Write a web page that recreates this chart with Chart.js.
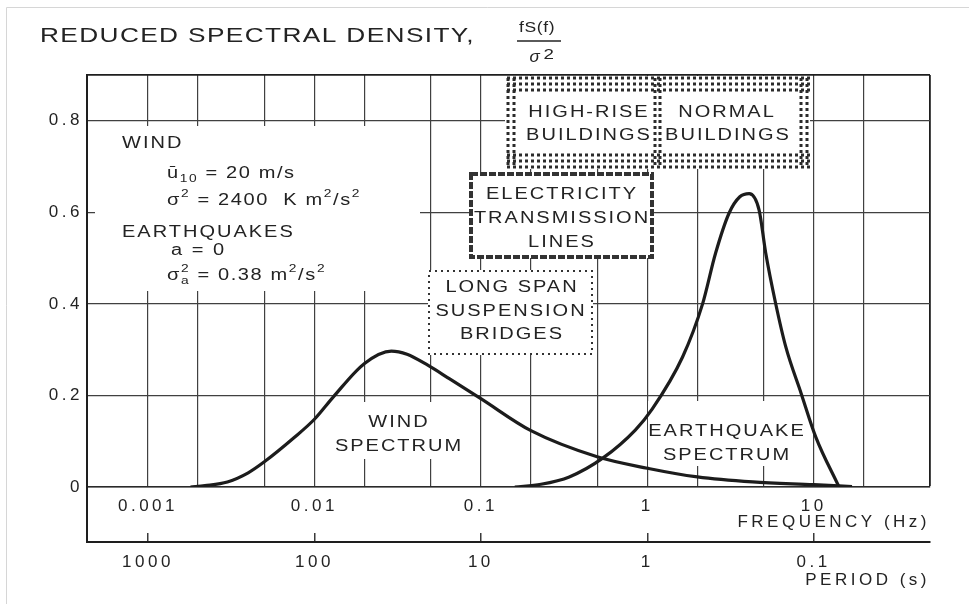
<!DOCTYPE html>
<html>
<head>
<meta charset="utf-8">
<script src="https://cdn.jsdelivr.net/npm/chart.js@4.4.1/dist/chart.umd.min.js"></script>
<style>
  html, body { margin: 0; padding: 0; background: #fff; }
  canvas { display: block; }
</style>
</head>
<body>
<canvas id="spectra" width="969" height="604" style="width:969px;height:604px"></canvas>
<script>
// values (frequency in Hz, reduced spectral density)
const windFreq   = [0.0018, 0.0022, 0.003, 0.004, 0.005, 0.0075, 0.01, 0.013, 0.02, 0.029, 0.036, 0.048, 0.065, 0.1, 0.2, 0.5, 1, 2, 4.3, 10, 17];
const windValue  = [0, 0.003, 0.011, 0.031, 0.055, 0.107, 0.148, 0.197, 0.27, 0.297, 0.29, 0.266, 0.236, 0.193, 0.123, 0.066, 0.041, 0.022, 0.011, 0.005, 0.001];
const quakeFreq  = [0.16, 0.23, 0.34, 0.54, 0.85, 1.07, 1.63, 2.15, 2.57, 3.1, 3.6, 4.1, 4.7, 5.15, 5.9, 6.8, 8.4, 10.3, 14.2];
const quakeValue = [0, 0.006, 0.022, 0.063, 0.125, 0.17, 0.284, 0.40, 0.51, 0.598, 0.634, 0.641, 0.605, 0.511, 0.402, 0.306, 0.205, 0.109, 0];

const freqGrid     = [0.001, 0.002, 0.005, 0.01, 0.02, 0.05, 0.1, 0.2, 0.5, 1, 2, 5, 10, 20, 50];
const decadeTicks  = [0.001, 0.01, 0.1, 1, 10];
const freqLabels   = ['0.001', '0.01', '0.1', '1', '10'];
const periodLabels = ['1000', '100', '10', '1', '0.1'];
const yTicks  = [0, 0.2, 0.4, 0.6, 0.8];
const yLabels = ['0', '0.2', '0.4', '0.6', '0.8'];

const freqMin = 0.00043, freqMax = 50, yTop = 0.9;

const FONT = '"Liberation Sans", Arial, sans-serif';
const INK = '#232323';
const GRID = '#404040';
const STRETCH = 1.25;   // the original lettering is a wide grotesque

// text and boxes drawn on the plot (pixel layout)
const plainNotes = [
  { t: 'WIND', x: 122, y: 144, align: 'left' },
  { t: 'EARTHQUAKES', x: 122, y: 233, align: 'left' },
  { t: 'a = 0', x: 171, y: 251, align: 'left' },
  { t: 'WIND', x: 399, y: 423 },
  { t: 'SPECTRUM', x: 399, y: 447 },
  { t: 'EARTHQUAKE', x: 727, y: 432 },
  { t: 'SPECTRUM', x: 727, y: 456 },
  { t: 'HIGH-RISE', x: 589, y: 113 },
  { t: 'BUILDINGS', x: 589, y: 136 },
  { t: 'NORMAL', x: 727, y: 113 },
  { t: 'BUILDINGS', x: 728, y: 136 },
  { t: 'ELECTRICITY', x: 562, y: 195 },
  { t: 'TRANSMISSION', x: 562, y: 219 },
  { t: 'LINES', x: 562, y: 243 },
  { t: 'LONG SPAN', x: 512, y: 288 },
  { t: 'SUSPENSION', x: 511, y: 312 },
  { t: 'BRIDGES', x: 512, y: 335 }
];
const richNotes = [
  { x: 167, y: 174, parts: [['ū', 'n'], ['10', 'sub'], [' = 20 m/s', 'n']] },
  { x: 167, y: 201, parts: [['σ', 'n'], ['2', 'sup'], [' = 2400  K m', 'n'], ['2', 'sup'], ['/s', 'n'], ['2', 'sup']] },
  { x: 167, y: 276, parts: [['σ', 'n'], [['2', 'a'], 'both'], [' = 0.38 m', 'n'], ['2', 'sup'], ['/s', 'n'], ['2', 'sup']] }
];
const masks = [[95, 126, 325, 165], [335, 402, 127, 57], [648, 401, 160, 65]];

function font(size) { return size + 'px ' + FONT; }

// draw text widened horizontally, returns the advance in pixels
function wideText(ctx, txt, x, y, size, align) {
  ctx.save();
  ctx.font = font(size);
  ctx.textAlign = align || 'left';
  ctx.translate(x, y);
  ctx.scale(STRETCH, 1);
  ctx.fillText(txt, 0, 0);
  const w = ctx.measureText(txt).width * STRETCH;
  ctx.restore();
  return w;
}

function drawRich(ctx, x, y, parts) {
  let cx = x;
  parts.forEach(([txt, kind]) => {
    if (kind === 'sup' || kind === 'sub') {
      cx += wideText(ctx, txt, cx, y + (kind === 'sup' ? -7 : 5), 11);
    } else if (kind === 'both') {
      const a = wideText(ctx, txt[0], cx, y - 7, 11);
      const b = wideText(ctx, txt[1], cx, y + 5, 11);
      cx += Math.max(a, b);
    } else {
      cx += wideText(ctx, txt, cx, y, 16);
    }
  });
}

function line(ctx, x1, y1, x2, y2) {
  ctx.beginPath();
  ctx.moveTo(x1, y1);
  ctx.lineTo(x2, y2);
  ctx.stroke();
}

function drawBoxes(ctx) {
  // high-rise / normal buildings: heavy dotted frame
  ctx.fillStyle = '#fff';
  ctx.fillRect(505, 76, 305, 93);
  ctx.strokeStyle = '#2b2b2b';
  ctx.lineWidth = 3;
  ctx.setLineDash([3, 3]);
  [78, 84, 90, 155, 161, 167].forEach(y => line(ctx, 507, y, 810, y));
  [508, 514, 801, 807, 655, 660].forEach(x => line(ctx, x, 78, x, 167));

  // electricity transmission lines: thick rough frame
  ctx.fillStyle = '#fff';
  ctx.fillRect(470, 173, 183, 85);
  ctx.strokeStyle = '#333';
  ctx.lineWidth = 4;
  ctx.setLineDash([7, 2]);
  ctx.strokeRect(471, 174, 181, 83);

  // long span suspension bridges: thin dotted frame
  ctx.fillStyle = '#fff';
  ctx.fillRect(428, 270, 165, 85);
  ctx.lineWidth = 2;
  ctx.setLineDash([2, 4]);
  ctx.strokeRect(429, 271, 163, 83);
  ctx.setLineDash([]);
}

const paperPlugin = {
  id: 'paper',
  beforeUpdate(chart) { chart.ctx.letterSpacing = '3.5px'; },
  beforeLayout(chart) { chart.ctx.letterSpacing = '3.5px'; },
  beforeDraw(chart) {
    const ctx = chart.ctx;
    ctx.letterSpacing = '3.5px';
    ctx.save();
    ctx.fillStyle = '#fff';
    ctx.fillRect(0, 0, chart.width, chart.height);
    ctx.strokeStyle = '#d6d6d6';
    ctx.lineWidth = 1;
    ctx.beginPath();
    ctx.moveTo(6.5, 604); ctx.lineTo(6.5, 7.5); ctx.lineTo(969, 7.5);
    ctx.stroke();

    // title with the fraction fS(f) / sigma^2
    ctx.fillStyle = INK;
    ctx.textBaseline = 'middle';
    ctx.letterSpacing = '1.1px';
    wideText(ctx, 'REDUCED SPECTRAL DENSITY,', 40, 36, 21);
    ctx.letterSpacing = '0.5px';
    wideText(ctx, 'fS(f)', 537, 28, 14, 'center');
    ctx.strokeStyle = INK;
    ctx.lineWidth = 1.5;
    line(ctx, 517, 41, 561, 41);
    ctx.font = 'italic ' + font(17);
    ctx.textAlign = 'center';
    ctx.fillText('σ', 535, 57);
    wideText(ctx, '2', 549, 55, 15, 'center');
    ctx.restore();
  },
  beforeDatasetsDraw(chart) {
    const ctx = chart.ctx;
    const area = chart.chartArea;
    ctx.save();
    ctx.fillStyle = '#fff';
    masks.forEach(([x, y, w, h]) => ctx.fillRect(x, y, w, h));
    drawBoxes(ctx);

    ctx.fillStyle = INK;
    ctx.textBaseline = 'middle';
    ctx.letterSpacing = '1.6px';
    plainNotes.forEach(n => wideText(ctx, n.t, n.x, n.y, 16, n.align || 'center'));
    ctx.letterSpacing = '1.3px';
    richNotes.forEach(n => drawRich(ctx, n.x, n.y, n.parts));

    // left frame continues down to the period axis
    ctx.strokeStyle = '#1e1e1e';
    ctx.lineWidth = 2;
    line(ctx, area.left, area.bottom, area.left, chart.scales.period.top + 1);
    ctx.restore();
  }
};

Chart.defaults.font.family = FONT;
Chart.defaults.color = INK;

const toPoints = (xs, ys) => xs.map((x, i) => ({ x: x, y: ys[i] }));
const frameColor = (edge) => (c) => (c.tick && c.tick.value === edge ? '#1e1e1e' : GRID);
const frameWidth = (edge) => (c) => (c.tick && c.tick.value === edge ? 1.8 : 1.2);

new Chart(document.getElementById('spectra').getContext('2d'), {
  type: 'line',
  data: {
    datasets: [{
      label: 'Wind spectrum',
      data: toPoints(windFreq, windValue),
      xAxisID: 'x', yAxisID: 'y',
      borderColor: '#1c1c1c', borderWidth: 3.2,
      pointRadius: 0, fill: false,
      cubicInterpolationMode: 'monotone'
    }, {
      label: 'Earthquake spectrum',
      data: toPoints(quakeFreq, quakeValue),
      xAxisID: 'x', yAxisID: 'y',
      borderColor: '#1c1c1c', borderWidth: 3.2,
      pointRadius: 0, fill: false,
      cubicInterpolationMode: 'monotone'
    }]
  },
  options: {
    responsive: false,
    animation: false,
    layout: { padding: { top: 75, right: 39, left: 0, bottom: 0 } },
    plugins: { legend: { display: false }, tooltip: { enabled: false }, title: { display: false } },
    scales: {
      x: {
        type: 'logarithmic', position: 'bottom', min: freqMin, max: freqMax,
        afterBuildTicks: s => { s.ticks = freqGrid.map(v => ({ value: v })); },
        afterFit: s => { s.height = 55; },
        ticks: {
          autoSkip: false, maxRotation: 0, padding: 9, font: { size: 17 }, color: INK,
          callback: v => { const i = decadeTicks.indexOf(v); return i < 0 ? '' : freqLabels[i]; }
        },
        grid: { drawTicks: false, color: frameColor(freqMax), lineWidth: frameWidth(freqMax) },
        border: { color: '#2a2a2a', width: 1.5 },
        title: { display: true, text: 'FREQUENCY (Hz)', align: 'end', color: INK, font: { size: 17 }, padding: { top: 0, bottom: 9 } }
      },
      period: {
        type: 'logarithmic', position: 'bottom', weight: 1, min: freqMin, max: freqMax,
        afterBuildTicks: s => { s.ticks = decadeTicks.map(v => ({ value: v })); },
        afterFit: s => { s.height = 62; },
        ticks: {
          autoSkip: false, maxRotation: 0, padding: 19, font: { size: 17 }, color: INK,
          callback: v => { const i = decadeTicks.indexOf(v); return i < 0 ? '' : periodLabels[i]; }
        },
        grid: { drawOnChartArea: false, tickLength: -9, color: '#3a3a3a', lineWidth: 1.5 },
        border: { color: '#1e1e1e', width: 2 },
        title: { display: true, text: 'PERIOD (s)', align: 'end', color: INK, font: { size: 17 }, padding: { top: 0, bottom: 13 } }
      },
      y: {
        min: 0, max: yTop,
        afterBuildTicks: s => { s.ticks = yTicks.concat([yTop]).map(v => ({ value: v })); },
        afterFit: s => { s.width = 87; },
        ticks: {
          padding: 4, font: { size: 17 }, color: INK,
          callback: v => { const i = yTicks.indexOf(v); return i < 0 ? '' : yLabels[i]; }
        },
        grid: { drawTicks: false, color: frameColor(yTop), lineWidth: frameWidth(yTop) },
        border: { color: '#1e1e1e', width: 2 }
      }
    }
  },
  plugins: [paperPlugin]
});
</script>
</body>
</html>
